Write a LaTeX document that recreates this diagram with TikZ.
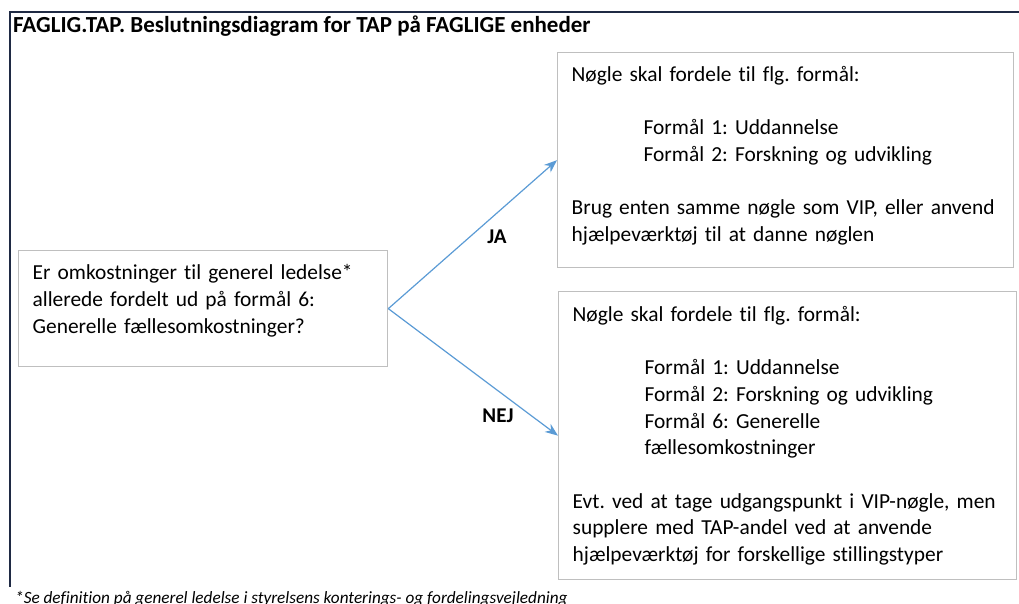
\documentclass[tikz,border=0pt]{standalone}
\usepackage{fontspec}
\setmainfont[Ligatures=NoCommon]{Carlito}
\frenchspacing
\usetikzlibrary{arrows.meta}
\definecolor{pilblaa}{RGB}{91,155,213}
\definecolor{kant}{RGB}{191,191,191}
\definecolor{ramme}{RGB}{31,42,68}

\begin{document}
\begin{tikzpicture}[x=1pt, y=-1pt,
            boks/.style = {draw=kant, line width=1.3pt, align=left,
                           inner xsep=14pt, inner ysep=0pt, anchor=north west,
                           font=\fontsize{21.4}{26.7}\selectfont},
            pil/.style = {draw=pilblaa, line width=1.2pt,
                          -{Stealth[length=13pt,width=10pt]}},
            svar/.style = {font=\fontsize{21}{24}\selectfont\bfseries}]
    \useasboundingbox (0,0) rectangle (1019,603);
    \draw[ramme, line width=2pt] (1019,12) -- (9.5,12) -- (9.5,587);
    \node[anchor=base west, inner sep=0pt, font=\fontsize{23}{26}\selectfont\bfseries] (titel) at (13,32)
        {FAGLIG.TAP. Beslutningsdiagram for TAP på FAGLIGE enheder};
    \node[boks, text width=341pt, minimum height=116pt] (spm) at (18,250)
        {Er omkostninger til generel ledelse*\\
         allerede fordelt ud på formål 6:\\
         Generelle fællesomkostninger?\\[-7pt] \mbox{}};
    \node[boks, text width=428pt, minimum height=215pt] (ja) at (557,52)
        {Nøgle skal fordele til flg. formål:\\ \mbox{}\\
         \hspace*{72pt}Formål 1: Uddannelse\\
         \hspace*{72pt}Formål 2: Forskning og udvikling\\ \mbox{}\\
         Brug enten samme nøgle som VIP, eller anvend\\
         hjælpeværktøj til at danne nøglen\\[-14pt] \mbox{}};
    \node[boks, text width=430pt, minimum height=288pt] (nej) at (558,291)
        {Nøgle skal fordele til flg. formål:\\ \mbox{}\\
         \hspace*{72pt}Formål 1: Uddannelse\\
         \hspace*{72pt}Formål 2: Forskning og udvikling\\
         \hspace*{72pt}Formål 6: Generelle\\
         \hspace*{72pt}fællesomkostninger\\ \mbox{}\\
         Evt. ved at tage udgangspunkt i VIP-nøgle, men\\
         supplere med TAP-andel ved at anvende\\
         hjælpeværktøj for forskellige stillingstyper};
    \draw[pil] (spm.east) -- (ja.west);
    \draw[pil] (spm.east) -- (nej.west);
    \node[svar] (jatekst) at (497,237) {JA};
    \node[svar] (nejtekst) at (498,416) {NEJ};
    \node[anchor=base west, inner sep=0pt, font=\fontsize{17.2}{20}\selectfont\itshape] (note) at (15,603)
        {*Se definition på generel ledelse i styrelsens konterings- og fordelingsvejledning};
\end{tikzpicture}
\end{document}
